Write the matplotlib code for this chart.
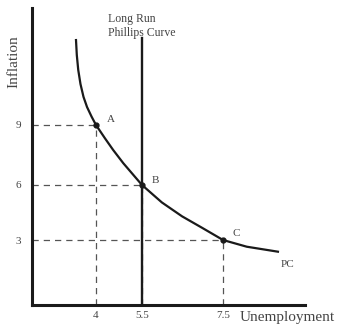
import numpy as np
import matplotlib
matplotlib.use("Agg")
import matplotlib.pyplot as plt

plt.rcParams['font.family'] = ['Liberation Serif', 'DejaVu Serif']

# data
point_names = ['A', 'B', 'C']
point_unemp = [4, 5.5, 7.5]
point_infl = [9, 6, 3]

# short run Phillips curve
pc_unemp = [2.75, 2.80, 2.89, 3.03, 3.22, 3.44, 3.72, 4.0, 4.29, 4.56, 4.89, 5.22, 5.5,
            5.99, 6.49, 6.98, 7.5, 8.08, 8.84]
pc_infl = [13.21, 12.47, 11.73, 11.03, 10.39, 9.89, 9.42, 9.0, 8.34, 7.75, 7.09, 6.5, 6.0,
           5.05, 4.29, 3.67, 3.0, 2.69, 2.46]

lrpc_unemp = 5.5
lrpc_top = 13.3

x_ticks = [4, 5.5, 7.5]
x_ticklabels = ['4', '5.5', '7.5']
y_ticks = [3, 6, 9]
y_ticklabels = ['3', '6', '9']

# the sketch is not drawn to scale, so use piecewise linear axes
x_break = [0, 4, 5.5, 7.5, 9.5]
x_pos = [0, 64, 110, 191, 273]
y_break = [0, 3, 6, 9, 14.8]
y_pos = [0, 65, 120, 180, 297]

ink = '#1a1a1a'
txt = '#444444'
dash = '#555555'

fig = plt.figure(figsize=(3.38, 3.26), dpi=100)
ax = fig.add_axes([32 / 338, 21 / 326, 273 / 338, 297 / 326])

ax.set_xscale('function', functions=(lambda v: np.interp(v, x_break, x_pos),
                                     lambda p: np.interp(p, x_pos, x_break)))
ax.set_yscale('function', functions=(lambda v: np.interp(v, y_break, y_pos),
                                     lambda p: np.interp(p, y_pos, y_break)))
ax.set_xlim(0, 9.5)
ax.set_ylim(0, 14.8)

# dashed guide lines
for x, y in zip(point_unemp, point_infl):
    ax.plot([0, x], [y, y], color=dash, lw=0.9, ls=(0, (5, 4)))
    ax.plot([x, x], [0, y], color=dash, lw=0.9, ls=(0, (5, 4)))

# long run curve
ax.plot([lrpc_unemp, lrpc_unemp], [0, lrpc_top], color=ink, lw=1.7)

# short run curve
ax.plot(pc_unemp, pc_infl, color=ink, lw=1.6, solid_joinstyle='round')
ax.plot(point_unemp, point_infl, 'o', color=ink, ms=3.5)

offsets = [(8, 4), (7, 3), (7, 5)]
for name, x, y, off in zip(point_names, point_unemp, point_infl, offsets):
    ax.annotate(name, (x, y), xytext=off, textcoords='offset points',
                fontsize=8, color=txt, va='center', ha='left')
ax.annotate('PC', (pc_unemp[-1], pc_infl[-1]), xytext=(2, -9),
            textcoords='offset points', fontsize=8, color=txt, va='center', ha='left')

# axes
for s in ['top', 'right']:
    ax.spines[s].set_visible(False)
for s in ['left', 'bottom']:
    ax.spines[s].set_linewidth(2.2)
    ax.spines[s].set_color(ink)
ax.set_xticks(x_ticks)
ax.set_xticklabels(x_ticklabels)
ax.set_yticks(y_ticks)
ax.set_yticklabels(y_ticklabels)
ax.tick_params(length=0, labelsize=8, labelcolor=txt)
ax.tick_params(axis='x', pad=4)
ax.tick_params(axis='y', pad=8)
ax.minorticks_off()

fig.text(108 / 338, 1 - 19 / 326, 'Long Run', fontsize=8.5, color=txt, va='center')
fig.text(108 / 338, 1 - 33 / 326, 'Phillips Curve', fontsize=8.5, color=txt, va='center')
fig.text(14 / 338, 1 - 62 / 326, 'Inflation', fontsize=11, color=txt,
         rotation=90, va='center', ha='center')
fig.text(240 / 338, 1 - 317 / 326, 'Unemployment', fontsize=11, color=txt, va='center')

fig.savefig('out.png', dpi=100)
